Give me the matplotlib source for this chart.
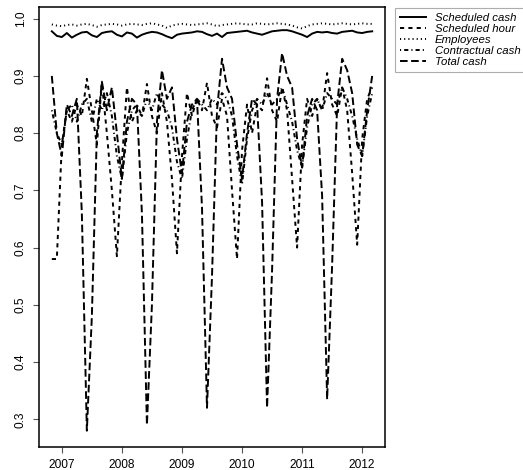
import numpy as np
import matplotlib
matplotlib.use("Agg")
import matplotlib.pyplot as plt

plt.rcParams["font.family"] = ["Liberation Sans", "DejaVu Sans"]
plt.rcParams["lines.scale_dashes"] = False

# Monthly ratios, Nov 2006 .. Mar 2012
start_year, start_month = 2006, 11
n_months = 65

scheduled_cash = [
    0.978, 0.970, 0.968, 0.975, 0.967, 0.972, 0.976, 0.977, 0.971, 0.968,
    0.975, 0.977, 0.978, 0.972, 0.969, 0.976, 0.974, 0.967, 0.972, 0.975,
    0.977, 0.976, 0.973, 0.969, 0.966, 0.972, 0.974, 0.975, 0.976, 0.978,
    0.977, 0.973, 0.970, 0.974, 0.968, 0.975, 0.976, 0.977, 0.978, 0.979,
    0.976, 0.974, 0.972, 0.975, 0.978, 0.979, 0.980, 0.980, 0.978, 0.975,
    0.972, 0.968, 0.974, 0.977, 0.976, 0.977, 0.975, 0.974, 0.977, 0.978,
    0.979, 0.976, 0.975, 0.977, 0.978,
]

scheduled_hour = [
    0.58, 0.58, 0.78, 0.84, 0.82, 0.85, 0.83, 0.895, 0.84, 0.78,
    0.888, 0.80, 0.70, 0.585, 0.75, 0.88, 0.82, 0.84, 0.83, 0.886,
    0.83, 0.80, 0.87, 0.82, 0.72, 0.59, 0.76, 0.87, 0.83, 0.86,
    0.84, 0.888, 0.83, 0.81, 0.86, 0.83, 0.70, 0.58, 0.77, 0.85,
    0.80, 0.85, 0.84, 0.896, 0.84, 0.82, 0.88, 0.84, 0.72, 0.60,
    0.78, 0.86, 0.83, 0.86, 0.84, 0.905, 0.85, 0.83, 0.88, 0.84,
    0.73, 0.605, 0.79, 0.86, 0.88,
]

employees = [
    0.990, 0.988, 0.987, 0.989, 0.990, 0.988, 0.990, 0.991, 0.989, 0.986,
    0.989, 0.990, 0.991, 0.990, 0.988, 0.990, 0.991, 0.990, 0.989, 0.991,
    0.992, 0.990, 0.988, 0.984, 0.988, 0.990, 0.991, 0.990, 0.989, 0.990,
    0.991, 0.992, 0.990, 0.987, 0.989, 0.990, 0.991, 0.992, 0.991, 0.990,
    0.990, 0.992, 0.991, 0.990, 0.991, 0.992, 0.991, 0.990, 0.988, 0.985,
    0.983, 0.987, 0.990, 0.991, 0.992, 0.991, 0.990, 0.991, 0.992, 0.991,
    0.990, 0.991, 0.992, 0.991, 0.991,
]

contractual_cash = [
    0.84, 0.80, 0.78, 0.84, 0.85, 0.82, 0.85, 0.86, 0.82, 0.86,
    0.84, 0.87, 0.83, 0.76, 0.72, 0.80, 0.84, 0.85, 0.83, 0.86,
    0.84, 0.87, 0.85, 0.84, 0.81, 0.75, 0.72, 0.79, 0.84, 0.86,
    0.85, 0.84, 0.86, 0.85, 0.87, 0.86, 0.83, 0.76, 0.71, 0.79,
    0.84, 0.86, 0.85, 0.87, 0.85, 0.86, 0.88, 0.85, 0.82, 0.77,
    0.74, 0.81, 0.85, 0.86, 0.84, 0.87, 0.86, 0.85, 0.88, 0.86,
    0.83, 0.79, 0.76, 0.83, 0.87,
]

total_cash = [
    0.90, 0.80, 0.76, 0.85, 0.83, 0.86, 0.66, 0.28, 0.48, 0.80,
    0.89, 0.84, 0.88, 0.80, 0.72, 0.82, 0.86, 0.85, 0.66, 0.29,
    0.50, 0.82, 0.91, 0.86, 0.88, 0.79, 0.73, 0.82, 0.85, 0.86,
    0.67, 0.32, 0.55, 0.84, 0.93, 0.88, 0.86, 0.78, 0.72, 0.80,
    0.86, 0.85, 0.68, 0.32, 0.56, 0.86, 0.94, 0.90, 0.88, 0.79,
    0.74, 0.83, 0.86, 0.84, 0.69, 0.335, 0.57, 0.85, 0.93, 0.91,
    0.87, 0.78, 0.76, 0.84, 0.90,
]

labels = ["Scheduled cash", "Scheduled hour", "Employees",
          "Contractual cash", "Total cash"]

t = start_year + (start_month - 1) / 12 + np.arange(n_months) / 12

fig = plt.figure(figsize=(5.23, 4.70), dpi=100)
ax = fig.add_axes([39 / 523, 1 - 447 / 470, 346 / 523, 440 / 470])

lw = 1.4
styles = [
    dict(linestyle="-"),
    dict(dashes=(3.0, 3.0)),
    dict(dashes=(0.8, 2.2)),
    dict(dashes=(0.8, 2.2, 3.0, 2.2)),
    dict(dashes=(5.5, 2.5)),
]
series = [scheduled_cash, scheduled_hour, employees, contractual_cash, total_cash]
handles = []
for y, st, lab in zip(series, styles, labels):
    h, = ax.plot(t, y, color="black", lw=lw, label=lab, **st)
    handles.append(h)

# R-style 4% padding around the data range
xmin, xmax = t.min(), t.max()
allv = np.concatenate([np.asarray(s) for s in series])
ymin, ymax = allv.min(), allv.max()
dx, dy = (xmax - xmin) * 0.04, (ymax - ymin) * 0.04
ax.set_xlim(xmin - dx, xmax + dx)
ax.set_ylim(ymin - dy, ymax + dy)

ax.set_xticks([2007, 2008, 2009, 2010, 2011, 2012])
ax.set_yticks([0.3, 0.4, 0.5, 0.6, 0.7, 0.8, 0.9, 1.0])
ax.set_yticklabels(["0.3", "0.4", "0.5", "0.6", "0.7", "0.8", "0.9", "1.0"])
ax.tick_params(axis="both", direction="out", length=4.3, width=0.8,
               color="#555555", labelsize=8.6, pad=4.5)
for lab in ax.get_yticklabels():
    lab.set_rotation(90)
    lab.set_va("center")
for sp in ax.spines.values():
    sp.set_linewidth(1.1)

leg = fig.legend(handles=handles, loc="upper left",
                 bbox_to_anchor=(395 / 523, 1 - 8 / 470), borderaxespad=0,
                 prop=dict(style="italic", size=8.2),
                 handlelength=2.3, handletextpad=0.8, labelspacing=0.1,
                 borderpad=0.4, fancybox=False, frameon=True)
leg.get_frame().set_edgecolor("#999999")
leg.get_frame().set_linewidth(0.8)

fig.savefig("out.png", dpi=100)
